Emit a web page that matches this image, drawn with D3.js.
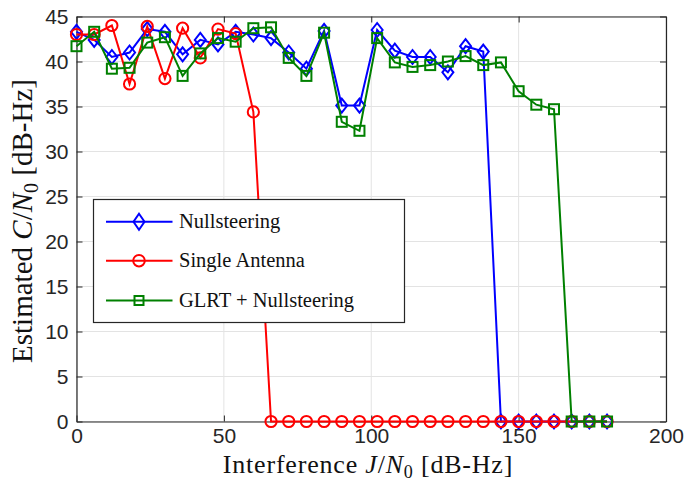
<!DOCTYPE html>
<html><head><meta charset="utf-8">
<script src="https://cdn.jsdelivr.net/npm/d3@7"></script>
<style>body{margin:0;background:#fff}svg{display:block}</style>
</head><body>
<script>
const xValues = [0,6,12,18,24,30,36,42,48,54,60,66,72,78,84,90,96,102,108,114,120,126,132,138,144,150,156,162,168,174,180];
const nullsteering = [43.3,42.4,40.5,41.0,43.6,43.3,40.8,42.4,41.9,43.3,43.0,42.6,41.0,39.2,43.4,35.1,35.1,43.5,41.2,40.5,40.5,38.8,41.7,41.1,0,0,0,0,0,0,0];
const singleAntenna = [43.0,43.0,44.0,37.5,43.9,38.1,43.7,40.4,43.6,43.1,34.4,0,0,0,0,0,0,0,0,0,0,0,0,0,0,0,0,0,0,0,0];
const glrtNull = [41.7,43.3,39.2,39.3,42.1,42.7,38.4,40.9,42.6,42.2,43.7,43.8,40.4,38.4,43.2,33.3,32.3,42.6,39.9,39.4,39.6,40.0,40.6,39.6,39.9,36.7,35.2,34.7,0,0,0];
const seriesNames = ["Nullsteering","Single Antenna","GLRT + Nullsteering"];
const xTicks = [0,50,100,150,200];
const yTicks = [0,5,10,15,20,25,30,35,40,45];

const W=684,H=485;
const L=76.5,R=666,T=16.5,B=421.5;
const svg=d3.select("body").append("svg").attr("width",W).attr("height",H);
const x=d3.scaleLinear().domain([0,200]).range([L,R]);
const y=d3.scaleLinear().domain([0,45]).range([B,T]);
const axisCol="#262626";

// grid
const g=svg.append("g");
g.selectAll(".gx").data(xTicks).enter().append("line")
 .attr("x1",d=>x(d)).attr("x2",d=>x(d)).attr("y1",T).attr("y2",B)
 .attr("stroke","#e3e3e3").attr("stroke-width",1);
g.selectAll(".gy").data(yTicks).enter().append("line")
 .attr("y1",d=>y(d)).attr("y2",d=>y(d)).attr("x1",L).attr("x2",R)
 .attr("stroke","#e3e3e3").attr("stroke-width",1);

// axes (ticks inward)
const tickFont="'Liberation Sans', Arial, sans-serif";
const ax=svg.append("g").attr("transform",`translate(0,${B})`)
 .call(d3.axisBottom(x).tickValues(xTicks).tickSizeInner(-6).tickSizeOuter(0).tickPadding(7));
const ay=svg.append("g").attr("transform",`translate(${L},0)`)
 .call(d3.axisLeft(y).tickValues(yTicks).tickSizeInner(-6).tickSizeOuter(0).tickPadding(8));
const axT=svg.append("g").attr("transform",`translate(0,${T})`)
 .call(d3.axisTop(x).tickValues(xTicks).tickSizeInner(-6).tickSizeOuter(0).tickFormat(""));
const ayR=svg.append("g").attr("transform",`translate(${R},0)`)
 .call(d3.axisRight(y).tickValues(yTicks).tickSizeInner(-6).tickSizeOuter(0).tickFormat(""));
[ax,ay,axT,ayR].forEach(a=>{
  a.select(".domain").attr("stroke",axisCol).attr("stroke-width",1.2);
  a.selectAll(".tick line").attr("stroke",axisCol).attr("stroke-width",1);
  a.selectAll("text").attr("fill",axisCol).style("font-family",tickFont).style("font-size","21px");
});

const data=[nullsteering,singleAntenna,glrtNull];
const colors=["#0000ff","#ff0000","#008000"];
const markers=["diamond","circle","square"];
function drawMarker(sel,type,color){
  if(type==="diamond") sel.append("path").attr("d","M0,-7L5.5,0L0,7L-5.5,0Z");
  else if(type==="circle") sel.append("circle").attr("r",5.6);
  else sel.append("rect").attr("x",-5).attr("y",-5).attr("width",10).attr("height",10);
  sel.selectAll("path,circle,rect").attr("fill","none").attr("stroke",color).attr("stroke-width",2);
}
const line=d3.line().x((d,i)=>x(xValues[i])).y(d=>y(d));
data.forEach((vals,k)=>{
  const s=svg.append("g");
  s.append("path").datum(vals).attr("d",line).attr("fill","none").attr("stroke",colors[k]).attr("stroke-width",2);
  vals.forEach((v,i)=>{
    const m=s.append("g").attr("transform",`translate(${x(xValues[i])},${y(v)})`);
    drawMarker(m,markers[k],colors[k]);
  });
});

// legend
const serif="'Liberation Serif','Times New Roman',serif";
const lg=svg.append("g");
lg.append("rect").attr("x",93.5).attr("y",199.5).attr("width",311).attr("height",123)
 .attr("fill","#fff").attr("stroke",axisCol).attr("stroke-width",1.2);
const rows=[221.7,260.7,300.5];
seriesNames.forEach((n,k)=>{
  lg.append("line").attr("x1",106).attr("x2",172.5).attr("y1",rows[k]).attr("y2",rows[k])
    .attr("stroke",colors[k]).attr("stroke-width",2);
  const m=lg.append("g").attr("transform",`translate(139,${rows[k]})`);
  if(k===0){m.append("path").attr("d","M0,-8L5.5,0L0,8L-5.5,0Z");}
  else if(k===1){m.append("circle").attr("r",5.8);}
  else {m.append("rect").attr("x",-4.5).attr("y",-4.5).attr("width",9).attr("height",9);}
  m.selectAll("path,circle,rect").attr("fill","none").attr("stroke",colors[k]).attr("stroke-width",2);
  lg.append("text").attr("x",179).attr("y",rows[k]).attr("dy","0.33em")
    .style("font-family",serif).style("font-size","20.5px").attr("fill","#111").text(n);
});

// axis labels
const xl=svg.append("text").attr("x",368).attr("y",473).attr("text-anchor","middle")
 .style("font-family",serif).style("font-size","26px").style("letter-spacing","0.8px").attr("fill","#111");
xl.append("tspan").text("Interference ");
xl.append("tspan").style("font-style","italic").text("J");
xl.append("tspan").text("/");
xl.append("tspan").style("font-style","italic").text("N");
xl.append("tspan").attr("dy","5").style("font-size","18px").text("0");
xl.append("tspan").attr("dy","-5").text(" [dB-Hz]");

const yl=svg.append("text").attr("transform","translate(32,221) rotate(-90)").attr("text-anchor","middle")
 .style("font-family",serif).style("font-size","29px").attr("fill","#111");
yl.append("tspan").text("Estimated ");
yl.append("tspan").style("font-style","italic").text("C");
yl.append("tspan").text("/");
yl.append("tspan").style("font-style","italic").text("N");
yl.append("tspan").attr("dy","6").style("font-size","20px").text("0");
yl.append("tspan").attr("dy","-6").text(" [dB-Hz]");
</script>
</body></html>
